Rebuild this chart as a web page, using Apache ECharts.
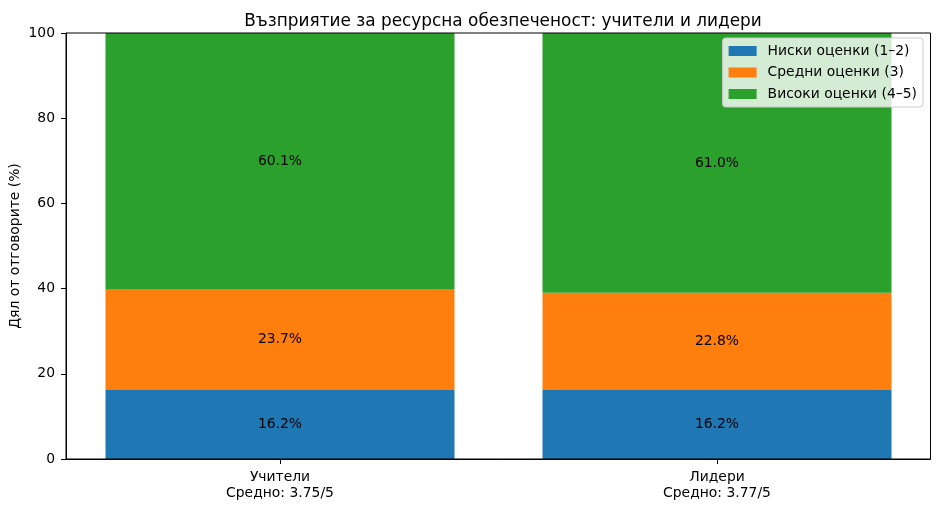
<!DOCTYPE html>
<html><head><meta charset="utf-8">
<script src="https://cdn.jsdelivr.net/npm/echarts@6/dist/echarts.min.js"></script>
<style>html,body{margin:0;padding:0;background:#fff}#c{width:940px;height:509px}</style>
</head><body><div id="c"></div>
<script>
const categories = ['Учители\nСредно: 3.75/5', 'Лидери\nСредно: 3.77/5'];
const seriesNames = ['Ниски оценки (1–2)', 'Средни оценки (3)', 'Високи оценки (4–5)'];
const lowValues = [16.2, 16.2];
const midValues = [23.7, 22.8];
const highValues = [60.1, 61.0];
const yTicks = [0, 20, 40, 60, 80, 100];
const colors = ['#1f77b4', '#ff7f0e', '#2ca02c'];

const font = 'DejaVu Sans';
const fs = 13.9;
function mk(name, vals, color) {
  return {
    name: name, type: 'bar', stack: 's', barWidth: 349, xAxisIndex: 1, yAxisIndex: 1,
    data: vals,
    itemStyle: { color: color },
    label: { show: true, position: 'inside', formatter: p => p.value.toFixed(1) + '%',
      color: '#000', fontFamily: font, fontSize: fs },
    emphasis: { disabled: true }
  };
}
const chart = echarts.init(document.getElementById('c'));
chart.setOption({
  animation: false,
  title: { text: 'Възприятие за ресурсна обезпеченост: учители и лидери', left: 498, top: 8, textAlign: 'center',
    textStyle: { fontFamily: font, fontSize: 16.9, fontWeight: 'normal', color: '#000' } },
  grid: [
    { left: 66, right: 9.5, top: 33, bottom: 50, show: true, borderColor: '#000', borderWidth: 1,
      backgroundColor: 'transparent', z: 5, outerBoundsMode: 'none', containLabel: false },
    { left: 61.5, right: 4.5, top: 33, bottom: 50, outerBoundsMode: 'none', containLabel: false }
  ],
  legend: {
    orient: 'vertical', right: 17, top: 38, itemWidth: 28, itemHeight: 10, itemGap: 7.5,
    padding: [6, 6, 6, 6],
    backgroundColor: 'rgba(255,255,255,0.8)', borderColor: '#cccccc', borderWidth: 1, borderRadius: 3,
    textStyle: { fontFamily: font, fontSize: fs, color: '#000', padding: [0, 0, 0, 6] },
    data: seriesNames.map(n => ({ name: n, icon: 'rect' }))
  },
  xAxis: [
    { type: 'value', gridIndex: 0, min: 0, max: 1, splitLine: { show: false },
      axisLine: { show: true, onZero: false, lineStyle: { color: '#000' } },
      axisTick: { show: false }, axisLabel: { show: false } },
    { type: 'category', gridIndex: 1, data: categories,
      axisLine: { show: false },
      axisTick: { show: true, alignWithLabel: true, length: 5, lineStyle: { color: '#000' } },
      axisLabel: { color: '#000', fontFamily: font, fontSize: fs, lineHeight: 16, margin: 10 } }
  ],
  yAxis: [
    { type: 'value', gridIndex: 0, min: 0, max: 100, interval: 20,
      name: 'Дял от отговорите (%)', nameLocation: 'middle', nameGap: 44, nameMoveOverlap: false,
      nameTextStyle: { fontFamily: font, fontSize: fs, color: '#000' },
      splitLine: { show: false },
      axisLine: { show: true, onZero: false, lineStyle: { color: '#000' } },
      axisTick: { show: true, length: 5, inside: false, lineStyle: { color: '#000' } },
      axisLabel: { color: '#000', fontFamily: font, fontSize: fs, margin: 11, formatter: v => yTicks.includes(v) ? String(v) : '' } },
    { type: 'value', gridIndex: 1, min: 0, max: 100, show: false }
  ],
  series: [mk(seriesNames[0], lowValues, colors[0]), mk(seriesNames[1], midValues, colors[1]), mk(seriesNames[2], highValues, colors[2])]
});
</script></body></html>
